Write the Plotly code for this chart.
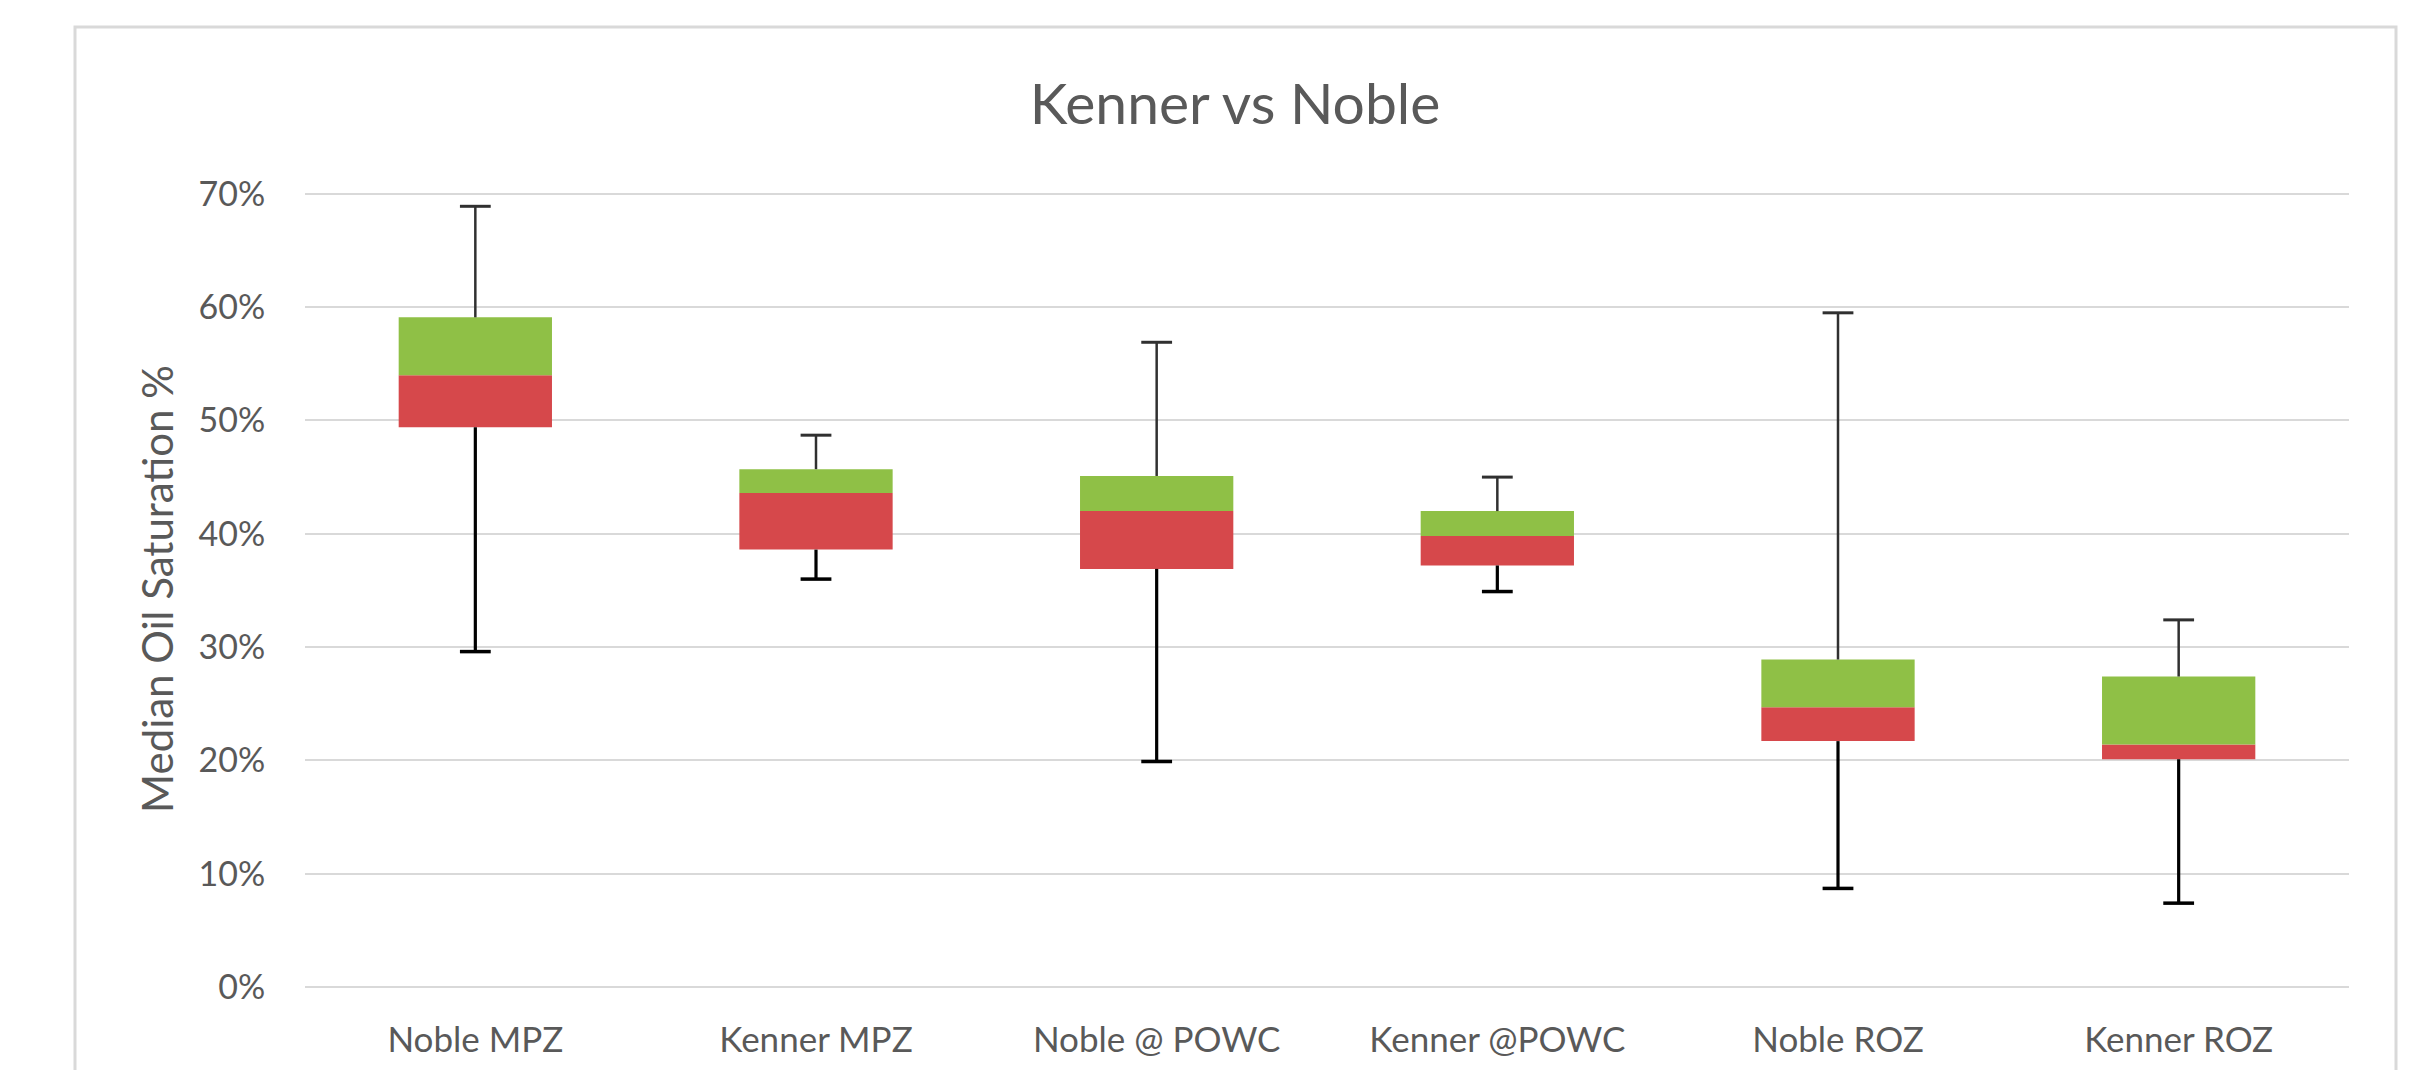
import plotly.graph_objects as go

categories = ["Noble MPZ", "Kenner MPZ", "Noble @ POWC", "Kenner @POWC", "Noble ROZ", "Kenner ROZ"]
whisker_min = [0.296, 0.360, 0.199, 0.349, 0.087, 0.074]
q1 = [0.494, 0.386, 0.369, 0.372, 0.217, 0.201]
median = [0.540, 0.436, 0.420, 0.398, 0.247, 0.214]
q3 = [0.591, 0.457, 0.451, 0.420, 0.289, 0.274]
whisker_max = [0.689, 0.487, 0.569, 0.450, 0.595, 0.324]
y_ticks = [0, 0.1, 0.2, 0.3, 0.4, 0.5, 0.6, 0.7]
y_tick_labels = ["0%", "10%", "20%", "30%", "40%", "50%", "60%", "70%"]

GREEN = "#8FC046"
RED = "#D6484B"
TEXT = "#595959"
GRID = "#D9D9D9"
FONT = "Lato, 'Open Sans', sans-serif"

fig = go.Figure()

# lower box part (Q1 -> median)
fig.add_trace(go.Bar(
    x=categories, base=q1, y=[m - a for m, a in zip(median, q1)],
    marker=dict(color=RED, line=dict(width=0)), width=0.45, showlegend=False,
    hoverinfo="skip"))
# upper box part (median -> Q3)
fig.add_trace(go.Bar(
    x=categories, base=median, y=[b - m for b, m in zip(q3, median)],
    marker=dict(color=GREEN, line=dict(width=0)), width=0.45, showlegend=False,
    hoverinfo="skip"))

# whisker lines
up_x, up_y, lo_x, lo_y = [], [], [], []
for c, a, b, lo, hi in zip(categories, q1, q3, whisker_min, whisker_max):
    up_x += [c, c, None]
    up_y += [b, hi, None]
    lo_x += [c, c, None]
    lo_y += [lo, a, None]

fig.add_trace(go.Scatter(x=up_x, y=up_y, mode="lines",
                         line=dict(color="#303030", width=2.5),
                         showlegend=False, hoverinfo="skip"))
fig.add_trace(go.Scatter(x=lo_x, y=lo_y, mode="lines",
                         line=dict(color="#000000", width=3.2),
                         showlegend=False, hoverinfo="skip"))
# whisker caps
fig.add_trace(go.Scatter(x=categories, y=whisker_max, mode="markers",
                         marker=dict(symbol="line-ew", size=22,
                                     line=dict(color="#303030", width=3)),
                         showlegend=False, hoverinfo="skip"))
fig.add_trace(go.Scatter(x=categories, y=whisker_min, mode="markers",
                         marker=dict(symbol="line-ew", size=22,
                                     line=dict(color="#000000", width=3.5)),
                         showlegend=False, hoverinfo="skip"))

# page body has an 8px margin, so figure coords = screen coords - 8
OFF = 8
Y_TOP = 0.7025  # a little headroom so the 70% gridline is drawn
W, H = 2419 - 2 * OFF, 1078 - 2 * OFF
L = 305 - OFF
R = W - (2349 - OFF)
B = H - (987 - OFF)
unit = (987 - 194) / 0.7
T = round(194 - (Y_TOP - 0.7) * unit) - OFF
pw = W - L - R
ph = H - T - B

def px_x(x):
    return (x - OFF - L) / pw

def px_y(y):
    return (H - B - (y - OFF)) / ph

fig.update_layout(
    width=W, height=H,
    margin=dict(l=L, r=R, t=T, b=B, pad=0),
    paper_bgcolor="white", plot_bgcolor="white",
    barmode="overlay",
    font=dict(family=FONT, color=TEXT, size=34),
    title=dict(text="Kenner vs Noble", x=(1235 - OFF) / W, xref="container", xanchor="center",
               y=1 - (104 - OFF) / H, yref="container", yanchor="middle",
               font=dict(size=57, color=TEXT, family=FONT)),
    xaxis=dict(type="category", showgrid=False, showline=False, zeroline=False,
               ticks="outside", ticklen=22, tickcolor="rgba(0,0,0,0)",
               tickfont=dict(size=35, color=TEXT)),
    yaxis=dict(range=[0, Y_TOP], tickvals=y_ticks, ticktext=y_tick_labels,
               showgrid=True, gridcolor=GRID, gridwidth=2,
               zeroline=True, zerolinecolor=GRID, zerolinewidth=2,
               showline=False, ticks="outside", ticklen=32,
               tickcolor="rgba(0,0,0,0)",
               tickfont=dict(size=34, color=TEXT),
               title=dict(text="Median Oil Saturation %", standoff=11,
                          font=dict(size=42, color=TEXT))),
    shapes=[dict(type="rect", xref="paper", yref="paper",
                 x0=px_x(75), x1=px_x(2396), y0=px_y(1100), y1=px_y(27),
                 line=dict(color="#D9D9D9", width=3), fillcolor="rgba(0,0,0,0)",
                 layer="below")],
)

fig.write_html("out.html")
